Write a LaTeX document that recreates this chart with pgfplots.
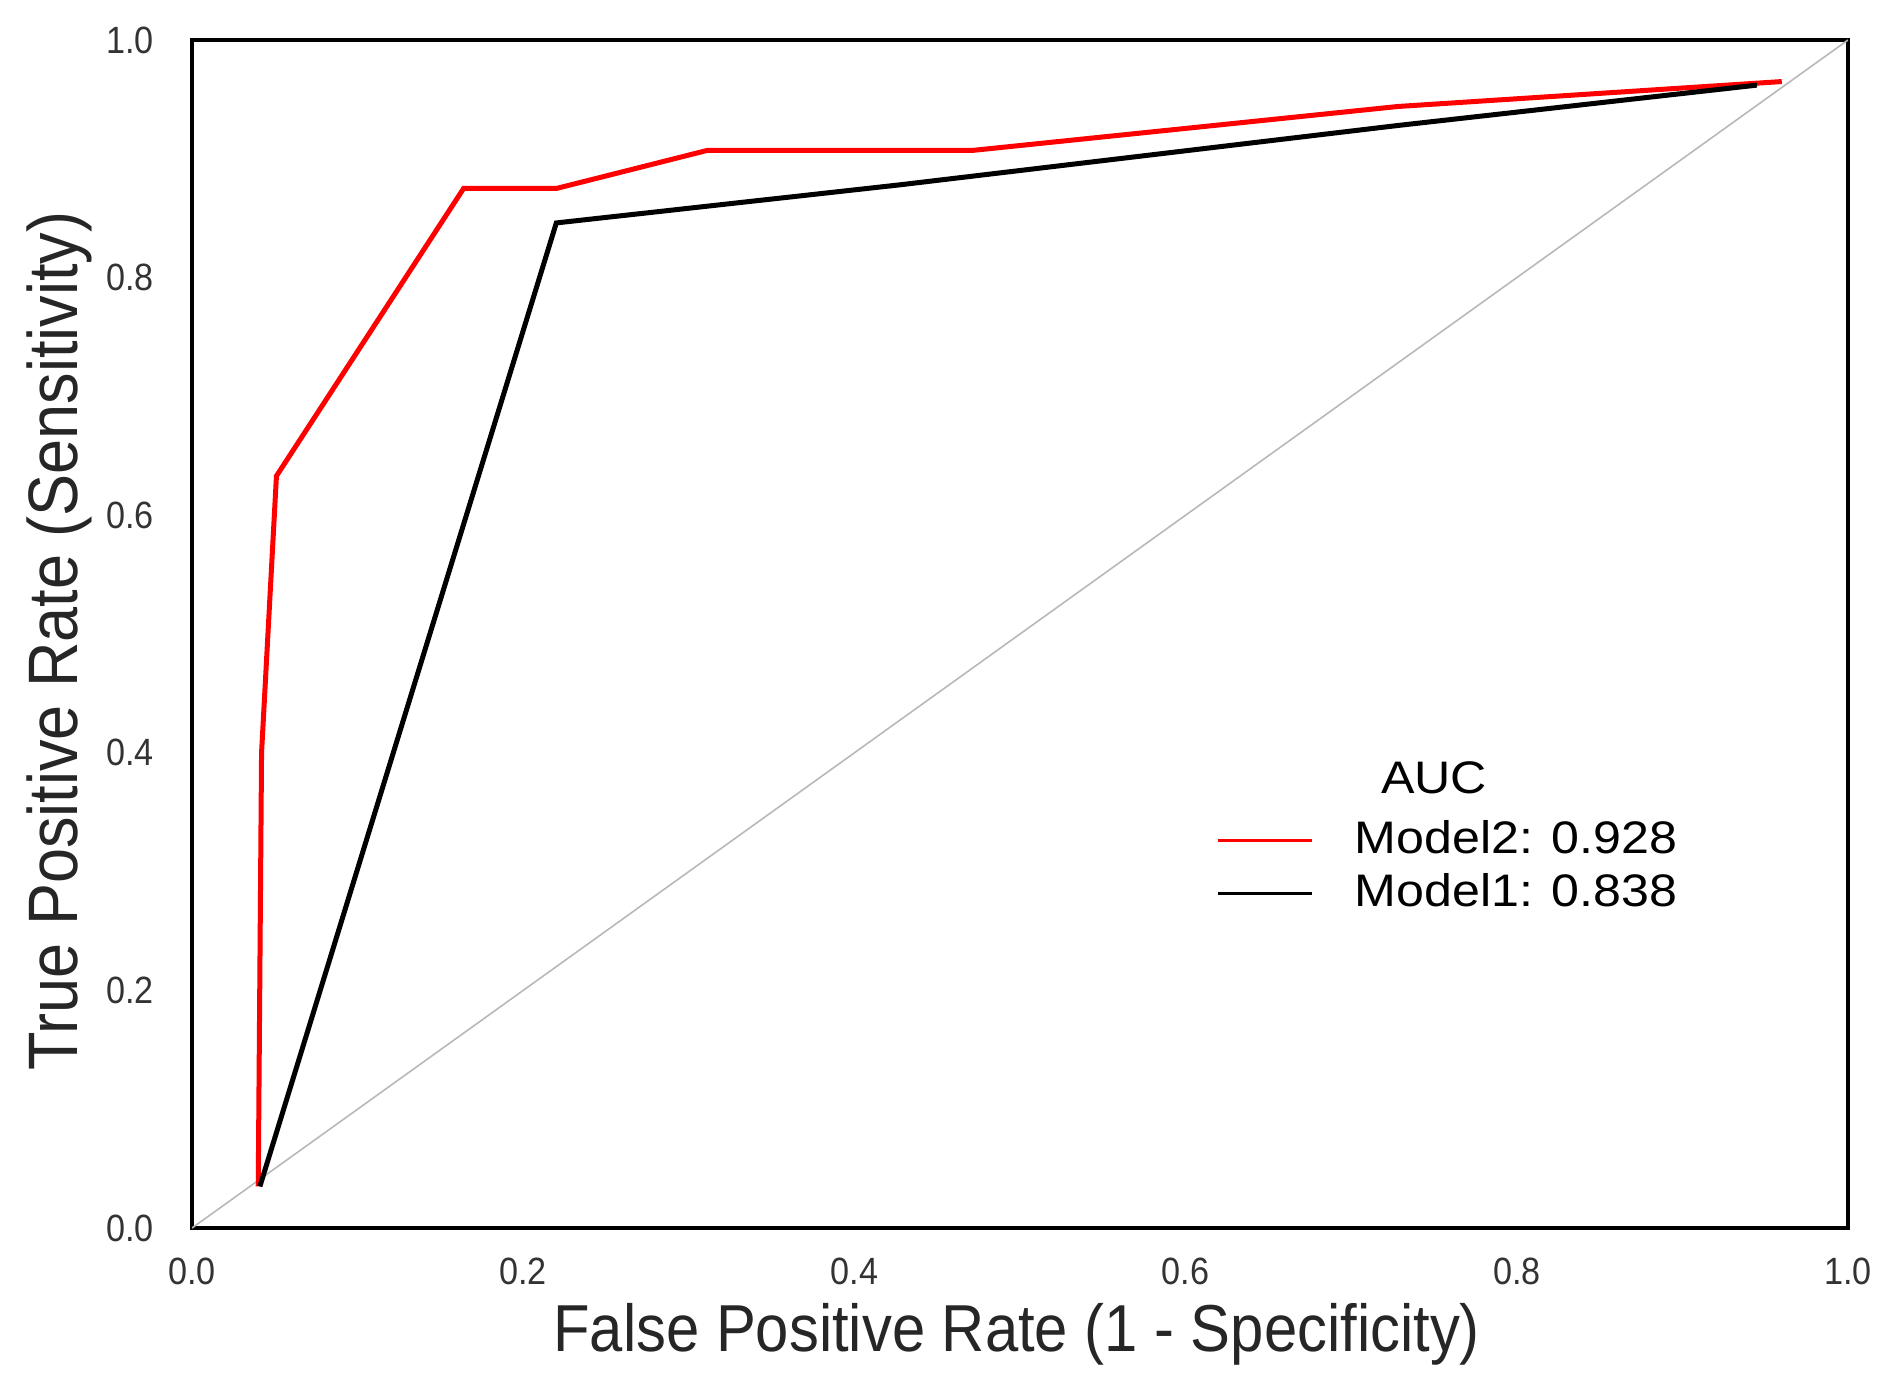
\documentclass[border=0pt]{standalone}
\usepackage{fontspec}
\setmainfont{Liberation Sans}
\newfontfamily\narrowfont[FakeStretch=0.9]{Liberation Sans}
\newfontfamily\widefont[FakeStretch=1.1]{Liberation Sans}
\usepackage{pgfplots}
\pgfplotsset{compat=1.18}

\begin{document}
\begin{tikzpicture}
\useasboundingbox (-48pt,-40pt) rectangle (424.5pt,307pt);
\begin{axis}[
    at={(0,0)}, anchor=south west,
    scale only axis, width=414pt, height=297pt,
    xmin=0, xmax=1, ymin=0, ymax=1,
    xtick={0,0.2,0.4,0.6,0.8,1},
    ytick={0,0.2,0.4,0.6,0.8,1},
    major tick length=0pt,
    axis line style={line width=1pt},
    tick label style={font=\narrowfont\fontsize{9.5}{11}\selectfont, text=black!80},
    /pgf/number format/fixed,
    /pgf/number format/fixed zerofill,
    /pgf/number format/precision=1,
    /pgf/number format/assume math mode=true,
    xticklabel style={anchor=north, yshift=-4pt},
    yticklabel style={anchor=east, xshift=-6pt},
    xlabel={False Positive Rate (1 - Specificity)},
    ylabel={True Positive Rate (Sensitivity)},
    xlabel style={font=\narrowfont\fontsize{16.6}{20}\selectfont, text=black!85,
        at={(axis description cs:0.498,-0.104)}, anchor=base},
    ylabel style={font=\narrowfont\fontsize{17.5}{20}\selectfont, text=black!85,
        at={(axis description cs:-0.08,0.494)}, anchor=center},
    legend style={draw=none, fill=none, at={(axis cs:0.611,0.357)}, anchor=north west,
        font=\widefont\fontsize{11.4}{13}\selectfont, row sep=-0.5pt},
    legend cell align=left,
    legend image code/.code={%
        \draw[#1, line width=0.8pt] (0pt,0pt) -- (23.5pt,0pt);
        \path (31.5pt,0pt);},
]

% chance line
\addplot[color=black!28, line width=0.4pt, forget plot]
    coordinates {(0,0) (1,1)};

\addplot[color=red, line width=1.25pt]
    coordinates {
(0.040,0.035)
(0.042,0.400)
(0.051,0.633)
(0.164,0.875)
(0.220,0.875)
(0.311,0.907)
(0.471,0.907)
(0.728,0.944)
(0.960,0.965)
    };
\addlegendentry{Model2: 0.928}

\addplot[color=black, line width=1.25pt]
    coordinates {
(0.041,0.035)
(0.220,0.846)
(0.427,0.878)
(0.728,0.928)
(0.945,0.962)
    };
\addlegendentry{Model1: 0.838}

\node[font=\widefont\fontsize{11.4}{13}\selectfont] at (axis cs:0.750,0.379) {AUC};

\end{axis}
\end{tikzpicture}
\end{document}
